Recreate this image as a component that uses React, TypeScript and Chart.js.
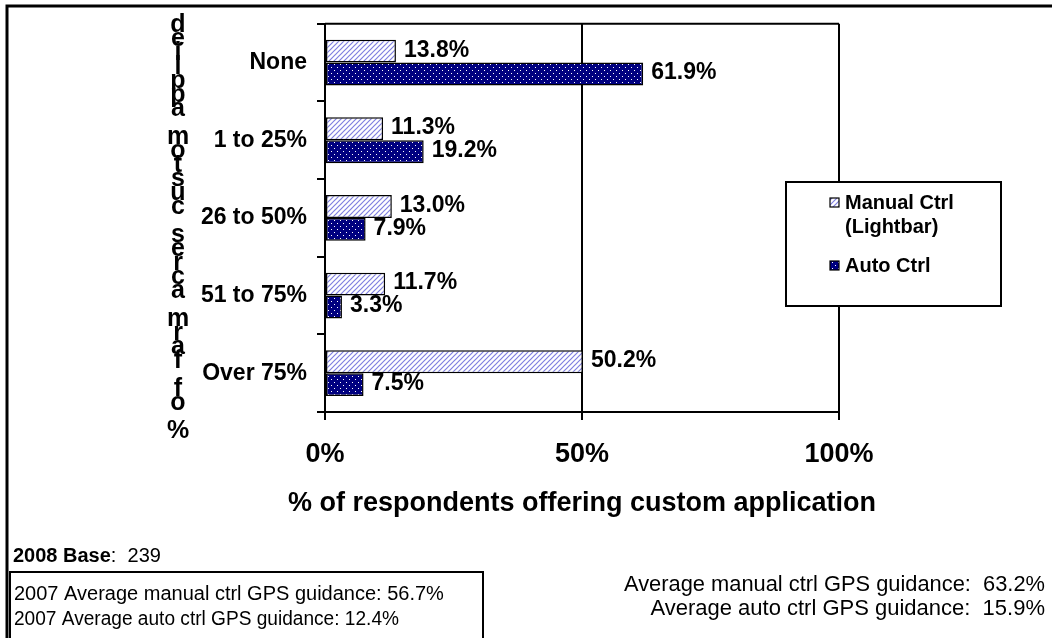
import React, { useEffect, useRef } from "react";
import { Chart, registerables } from "chart.js";
Chart.register(...registerables);

const categories = ["None", "1 to 25%", "26 to 50%", "51 to 75%", "Over 75%"];
const manualValues = [13.8, 11.3, 13.0, 11.7, 50.2];
const autoValues = [61.9, 19.2, 7.9, 3.3, 7.5];
const manualLegend = ["Manual Ctrl", "(Lightbar)"];
const autoLegend = "Auto Ctrl";
const xTickValues = [0, 50, 100];
const xTitle = "% of respondents offering custom application";
const yTitle = "% of farm acres custom applied";
const baseLabel = "2008 Base";
const baseValue = ":  239";
const boxNotes = [
  "2007 Average manual ctrl GPS guidance: 56.7%",
  "2007 Average auto ctrl GPS guidance: 12.4%",
];
const rightNotes = [
  "Average manual ctrl GPS guidance:  63.2%",
  "Average auto ctrl GPS guidance:  15.9%",
];

const FONT = "'Liberation Sans', Arial, sans-serif";

function makeHatch(ctx: CanvasRenderingContext2D) {
  const c = document.createElement("canvas");
  c.width = 5;
  c.height = 5;
  const g = c.getContext("2d")!;
  g.fillStyle = "#ffffff";
  g.fillRect(0, 0, 5, 5);
  g.strokeStyle = "#7f7fe0";
  g.lineWidth = 1.2;
  g.beginPath();
  g.moveTo(-1, 6);
  g.lineTo(6, -1);
  g.moveTo(-1, 1);
  g.lineTo(1, -1);
  g.moveTo(4, 6);
  g.lineTo(6, 4);
  g.stroke();
  return ctx.createPattern(c, "repeat")!;
}

function makeDots(ctx: CanvasRenderingContext2D) {
  const c = document.createElement("canvas");
  c.width = 6;
  c.height = 6;
  const g = c.getContext("2d")!;
  g.fillStyle = "#000080";
  g.fillRect(0, 0, 6, 6);
  g.fillStyle = "#ffffff";
  g.fillRect(1, 1, 1, 1);
  g.fillRect(4, 4, 1, 1);
  return ctx.createPattern(c, "repeat")!;
}

export default function App() {
  const ref = useRef<HTMLCanvasElement | null>(null);

  useEffect(() => {
    const canvas = ref.current!;
    const ctx = canvas.getContext("2d")!;
    const hatch = makeHatch(ctx);
    const dots = makeDots(ctx);

    const extras = {
      id: "extras",
      afterDatasetsDraw(chart: any) {
        const c = chart.ctx as CanvasRenderingContext2D;
        const area = chart.chartArea;
        c.save();
        c.strokeStyle = "#000";
        c.lineWidth = 2;
        c.beginPath();
        c.moveTo(area.left, area.top);
        c.lineTo(area.right, area.top);
        c.stroke();
        c.fillStyle = "#000";
        c.font = `bold 23px ${FONT}`;
        c.textAlign = "left";
        c.textBaseline = "middle";
        chart.data.datasets.forEach((ds: any, di: number) => {
          const meta = chart.getDatasetMeta(di);
          meta.data.forEach((el: any, i: number) => {
            const v = ds.data[i] as number;
            c.fillText(v.toFixed(1) + "%", el.x + 8, el.y - 1);
          });
        });
        c.restore();
      },
      afterDraw(chart: any) {
        const c = chart.ctx as CanvasRenderingContext2D;
        const area = chart.chartArea;
        c.save();
        c.strokeStyle = "#000";
        c.lineWidth = 3;
        c.beginPath();
        c.moveTo(7, 640);
        c.lineTo(7, 6);
        c.lineTo(1060, 6);
        c.stroke();

        // x-axis title
        c.fillStyle = "#000";
        c.font = `bold 27px ${FONT}`;
        c.textAlign = "center";
        c.textBaseline = "middle";
        c.fillText(xTitle, (area.left + area.right) / 2, 504);

        // stacked y-axis title
        c.font = `bold 25px ${FONT}`;
        const letters = yTitle.split("").reverse();
        letters.forEach((ch, i) => {
          if (ch !== " ") c.fillText(ch, 178, 25 + i * 14);
        });

        // legend
        const lx = 786, ly = 182, lw = 215, lh = 124;
        c.fillStyle = "#fff";
        c.fillRect(lx, ly, lw, lh);
        c.strokeStyle = "#000";
        c.lineWidth = 2;
        c.strokeRect(lx, ly, lw, lh);
        c.fillStyle = hatch;
        c.fillRect(830, 198, 9, 9);
        c.strokeStyle = "#000";
        c.lineWidth = 1.2;
        c.strokeRect(830, 198, 9, 9);
        c.fillStyle = dots;
        c.fillRect(830, 261, 9, 9);
        c.strokeRect(830, 261, 9, 9);
        c.fillStyle = "#000";
        c.font = `bold 20px ${FONT}`;
        c.textAlign = "left";
        c.textBaseline = "middle";
        c.fillText(manualLegend[0], 845, 203);
        c.fillText(manualLegend[1], 845, 227);
        c.fillText(autoLegend, 845, 266);

        // notes
        c.font = `bold 20px ${FONT}`;
        c.fillText(baseLabel, 13, 556);
        const bw = c.measureText(baseLabel).width;
        c.font = `20px ${FONT}`;
        c.fillText(baseValue, 13 + bw, 556);

        c.strokeStyle = "#000";
        c.lineWidth = 2;
        c.strokeRect(10, 572, 473, 80);
        c.font = `20px ${FONT}`;
        c.fillText(boxNotes[0], 14, 594, 436);
        c.fillText(boxNotes[1], 14, 619, 385);

        c.font = `22px ${FONT}`;
        c.textAlign = "right";
        c.fillText(rightNotes[0], 1045, 585, 421);
        c.fillText(rightNotes[1], 1045, 609, 404);
        c.restore();
      },
    };

    const chart = new Chart(canvas, {
      type: "bar",
      data: {
        labels: categories,
        datasets: [
          {
            label: manualLegend.join(" "),
            data: manualValues,
            backgroundColor: hatch as any,
            borderColor: "#000",
            borderWidth: 1.5,
            borderSkipped: false,
            categoryPercentage: 0.59,
            barPercentage: 1.0,
          },
          {
            label: autoLegend,
            data: autoValues,
            backgroundColor: dots as any,
            borderColor: "#000",
            borderWidth: 1.5,
            borderSkipped: false,
            categoryPercentage: 0.59,
            barPercentage: 1.0,
          },
        ],
      },
      options: {
        indexAxis: "y",
        responsive: false,
        animation: false,
        devicePixelRatio: 1,
        layout: { padding: { left: 0, right: 213, top: 21, bottom: 116 } },
        plugins: { legend: { display: false }, tooltip: { enabled: false } },
        scales: {
          x: {
            min: 0,
            max: 100,
            afterBuildTicks: (s: any) => {
              s.ticks = xTickValues.map((v) => ({ value: v }));
            },
            afterFit: (s: any) => {
              s.height = 110;
            },
            ticks: {
              callback: (v: any) => v + "%",
              color: "#000",
              font: { family: FONT, size: 27, weight: "bold" },
              padding: 18,
              maxRotation: 0,
            },
            grid: { color: "#000", lineWidth: 2, tickLength: 8 },
            border: { color: "#000", width: 2 },
            title: { display: false },
          },
          y: {
            afterFit: (s: any) => {
              s.width = 325;
            },
            ticks: {
              color: "#000",
              font: { family: FONT, size: 23, weight: "bold" },
              padding: 10,
            },
            grid: {
              display: true,
              drawOnChartArea: false,
              offset: true,
              tickLength: 8,
              color: "#000",
              lineWidth: 2,
            },
            border: { color: "#000", width: 2 },
          },
        },
      },
      plugins: [extras],
    });
    return () => chart.destroy();
  }, []);

  return (
    <div style={{ position: "absolute", left: 0, top: 0, width: 1052, height: 638, background: "#fff" }}>
      <canvas ref={ref} width={1052} height={638} style={{ display: "block" }} />
    </div>
  );
}
